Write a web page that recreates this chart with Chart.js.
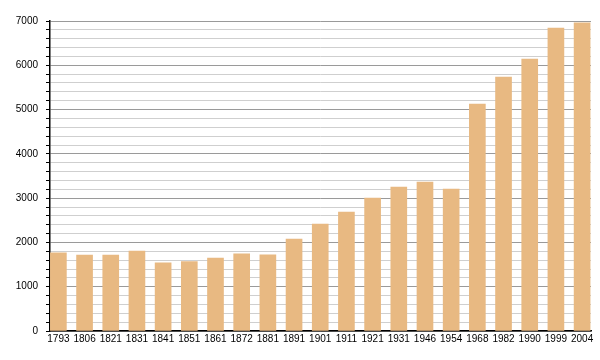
<!DOCTYPE html>
<html>
<head>
<meta charset="utf-8">
<script src="https://cdn.jsdelivr.net/npm/chart.js@4"></script>
<style>
  html, body { margin: 0; padding: 0; background: #fff; }
  #wrap { width: 600px; height: 360px; }
</style>
</head>
<body>
<div id="wrap"><canvas id="popChart" width="600" height="360"></canvas></div>
<script>
const years = ["1793", "1806", "1821", "1831", "1841", "1851", "1861", "1872", "1881", "1891", "1901",
  "1911", "1921", "1931", "1946", "1954", "1968", "1982", "1990", "1999", "2004"];

const population = [1765, 1715, 1715, 1805, 1540, 1565, 1648, 1745, 1722, 2075, 2415,
  2688, 3003, 3251, 3364, 3206, 5125, 5735, 6141, 6841, 6961];

const yTicks = [0, 1000, 2000, 3000, 4000, 5000, 6000, 7000];

const ctx = document
  .getElementById("popChart")
  .getContext("2d");

new Chart(ctx, {
  type: "bar",

  data: {
    datasets: [{
      label: "Population",
      data: population.map((v, i) => ({ x: i, y: v })),
      backgroundColor: "#e8b982",
      barThickness: 16
    }]
  },

  options: {
    responsive: false,
    animation: false,
    layout: {
      padding: { top: 21, right: 9, bottom: 0, left: 0 }
    },

    plugins: {
      legend: { display: false },
      tooltip: { enabled: false }
    },

    scales: {
      x: {
        type: "linear",
        min: -0.32,
        max: 20.34,
        offset: false,
        grid: { display: false, drawTicks: false, tickLength: 0 },
        border: { color: "#000", width: 1.5 },
        afterBuildTicks: (scale) => {
          scale.ticks = years.map((y, i) => ({ value: i }));
        },
        afterFit: (scale) => { scale.height = 29; },
        ticks: {
          autoSkip: false,
          maxRotation: 0,
          padding: 2,
          color: "#000",
          font: { family: "Liberation Sans", size: 10 },
          callback: (v) => years[v]
        }
      },

      y: {
        min: 0,
        max: 7000,
        afterBuildTicks: (scale) => {
          const t = [];
          for (let v = 0; v <= 7000; v += 200) t.push({ value: v });
          scale.ticks = t;
        },
        afterFit: (scale) => { scale.width = 50; },
        border: { color: "#000", width: 1.5 },
        grid: {
          tickLength: 4,
          tickColor: "#000",
          color: (c) => c.tick && c.tick.value % 1000 === 0 ? "#9a9a9a" : "#cfcfcf",
          lineWidth: 1
        },
        ticks: {
          autoSkip: false,
          padding: 8,
          color: "#000",
          font: { family: "Liberation Sans", size: 10 },
          callback: (v) => yTicks.includes(v) ? String(v) : ""
        }
      }
    }
  }
});
</script>
</body>
</html>
